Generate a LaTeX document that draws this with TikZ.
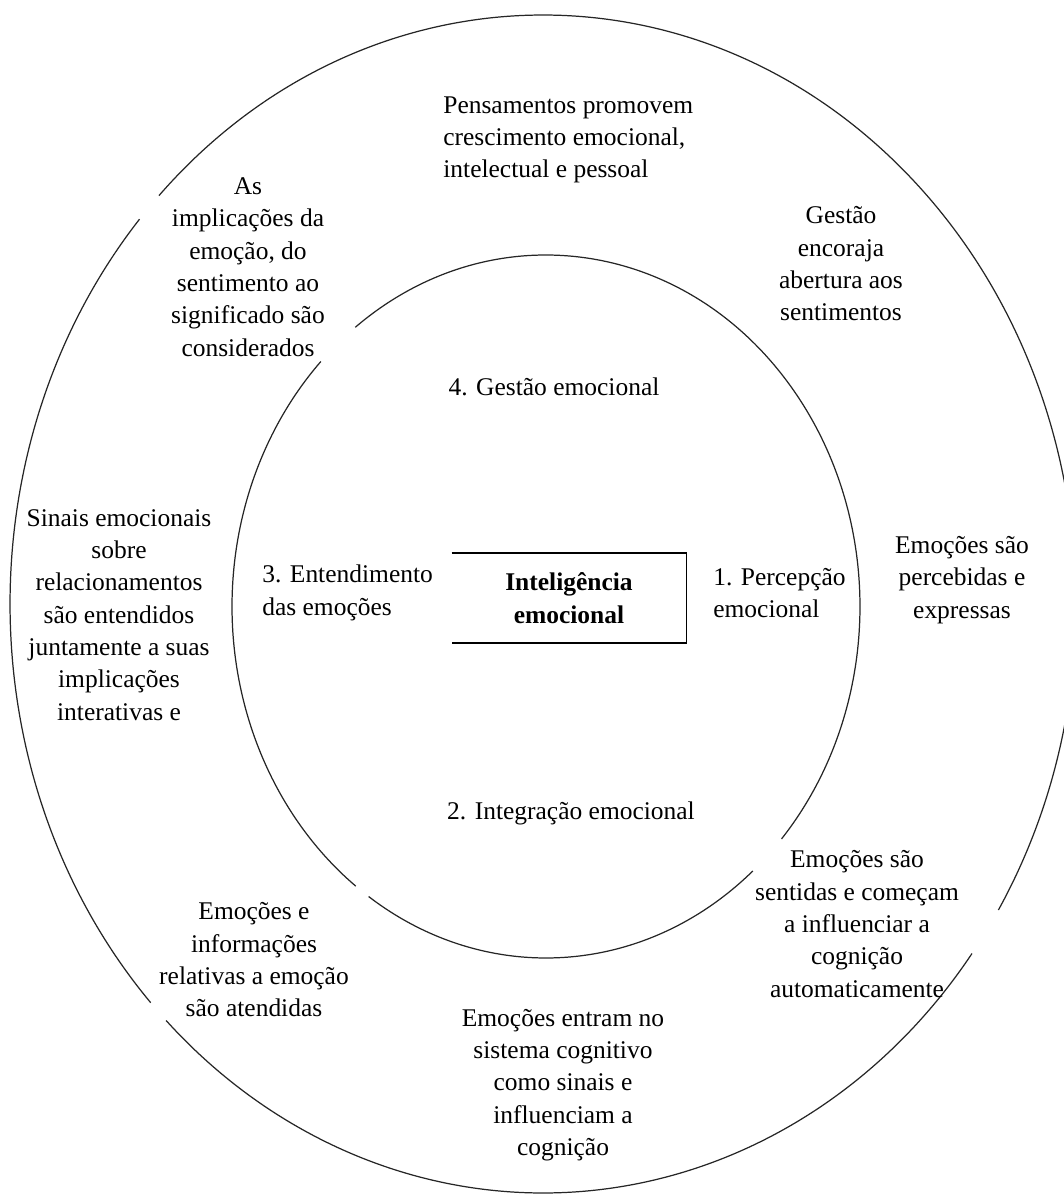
\documentclass[tikz,border=0pt]{standalone}
\usepackage{fontspec}
\setmainfont{Liberation Serif}
\newcommand{\txtsize}{\fontsize{14.5}{18.4}\selectfont}

\tikzset{
  ring/.style={line width=0.7pt, black!85},
  lbl/.style={align=center, inner sep=0pt, font=\txtsize},
  lbll/.style={align=left, inner sep=0pt, font=\txtsize, anchor=west},
  ebox/.style={minimum width=4.68cm, minimum height=1.78cm, inner sep=0pt, align=center, font=\txtsize\bfseries},
}

\begin{document}
\begin{tikzpicture}[x=0.02cm, y=-0.02cm]
\useasboundingbox (0,0) rectangle (1064,1194);
\clip (0,0) rectangle (1064,1194);

% outer ring, with its gaps
\coordinate (co) at (543,604);
\draw[ring] (co) ++(223.9:533 and 589) arc[start angle=223.9, end angle=391.3, x radius=533, y radius=589];
\draw[ring] (co) ++(36.4:533 and 589) arc[start angle=36.4, end angle=135, x radius=533, y radius=589];
\draw[ring] (co) ++(137.4:533 and 589) arc[start angle=137.4, end angle=220.8, x radius=533, y radius=589];

% inner ring
\coordinate (ci) at (546,606.5);
\draw[ring] (ci) ++(232.6:314 and 351.5) arc[start angle=232.6, end angle=401.4, x radius=314, y radius=351.5];
\draw[ring] (ci) ++(48.8:314 and 351.5) arc[start angle=48.8, end angle=124.4, x radius=314, y radius=351.5];
\draw[ring] (ci) ++(127.3:314 and 351.5) arc[start angle=127.3, end angle=224.2, x radius=314, y radius=351.5];

% centre
\node[ebox] (ie) at (569,598) {Inteligência\\emocional};
\draw[line width=0.8pt] (ie.north west) -- (ie.north east) -- (ie.south east) -- (ie.south west);

% inner labels
\node[lbl] (gestao) at (554,387) {4. Gestão emocional};
\node[lbll] (entendimento) at (262,593) {3. Entendimento\\das emoções};
\node[lbll] (percepcao) at (713,593) {1. Percepção\\emocional};
\node[lbl] (integracao) at (571,813) {2. Integração emocional};

% outer labels
\node[lbll] (pensamentos) at (443,140) {Pensamentos promovem\\crescimento emocional,\\intelectual e pessoal};
\node[lbl] (implicacoes) at (248,267) {As\\implicações da\\emoção, do\\sentimento ao\\significado são\\considerados};
\node[lbl] (encoraja) at (841,264) {Gestão\\encoraja\\abertura aos\\sentimentos};
\node[lbl] (sinais) at (119,615) {Sinais emocionais\\sobre\\relacionamentos\\são entendidos\\juntamente a suas\\implicações\\interativas e};
\node[lbl] (percebidas) at (962,580) {Emoções são\\percebidas e\\expressas};
\node[lbl] (sentidas) at (857,924) {Emoções são\\sentidas e começam\\a influenciar a\\cognição\\automaticamente};
\node[lbl] (atendidas) at (254,960) {Emoções e\\informações\\relativas a emoção\\são atendidas};
\node[lbl] (entram) at (563,1085) {Emoções entram no\\sistema cognitivo\\como sinais e\\influenciam a\\cognição};
\end{tikzpicture}
\end{document}
